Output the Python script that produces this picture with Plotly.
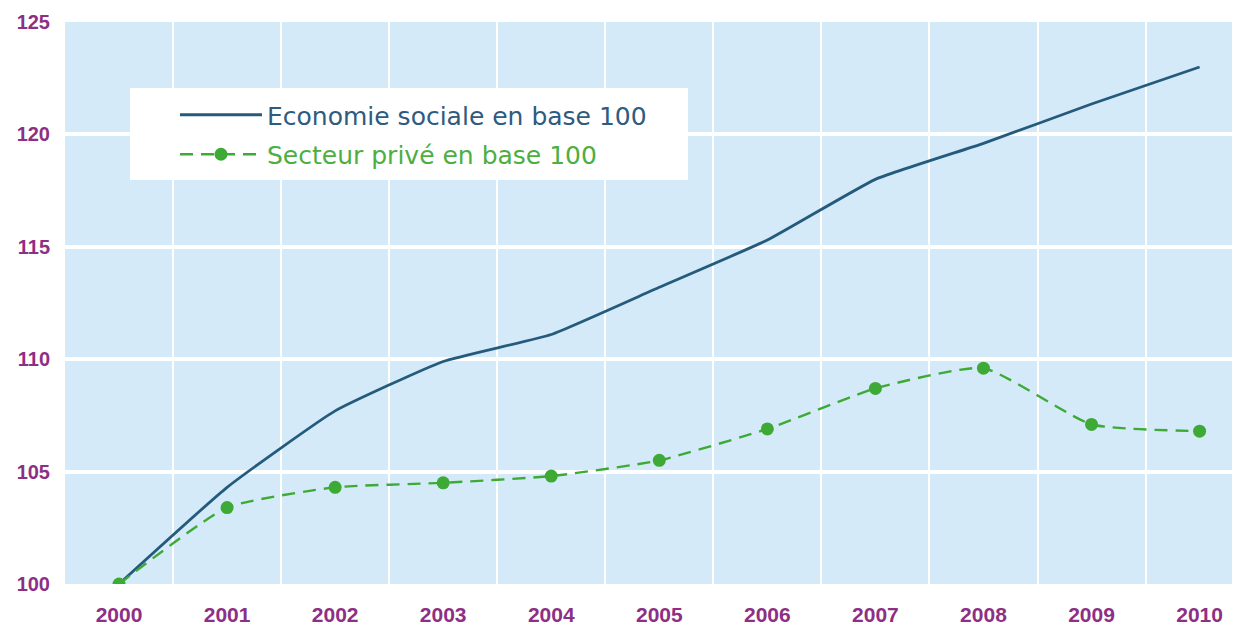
import plotly.graph_objects as go

years = [2000, 2001, 2002, 2003, 2004, 2005, 2006, 2007, 2008, 2009, 2010]
economie_sociale = [100.0, 104.3, 107.7, 109.9, 111.1, 113.2, 115.3, 118.0, 119.6, 121.35, 123.0]
secteur_prive = [100.0, 103.4, 104.3, 104.5, 104.8, 105.5, 106.9, 108.7, 109.6, 107.1, 106.8]
y_ticks = [100, 105, 110, 115, 120, 125]

name_es = "Economie sociale en base 100"
name_sp = "Secteur privé en base 100"

blue = "#245B7C"
green = "#3DAA35"
purple = "#8E2F86"

fig = go.Figure()
fig.add_trace(go.Scatter(
    x=years, y=economie_sociale, mode="lines",
    name=f"<span style='color:#2E5B7E'>{name_es}</span>",
    legendgroup="es",
    line=dict(color=blue, width=2.8, shape="spline", smoothing=0.4),
))
fig.add_trace(go.Scatter(
    x=years, y=secteur_prive, mode="lines+markers",
    name=f"<span style='color:#4CAF3F'>{name_sp}</span>",
    legendgroup="sp",
    line=dict(color=green, width=2.4, dash="13px,8px", shape="spline", smoothing=0.5),
    marker=dict(color=green, size=13),
))

# white panel behind the legend (legend box in the reference has wide left padding)
fig.add_shape(
    type="rect", xref="paper", yref="paper",
    x0=(130 - 65) / 1167, x1=(688 - 65) / 1167,
    y0=(584 - 180) / 562, y1=(584 - 88) / 562,
    fillcolor="white", line=dict(width=0), layer="above",
)

fig.update_layout(
    width=1234, height=629,
    margin=dict(l=65, r=2, t=22, b=45),
    paper_bgcolor="white",
    plot_bgcolor="#D4EAF8",
    showlegend=True,
    legend=dict(
        x=(175 - 65) / 1167, y=(584 - 92) / 562, xanchor="left", yanchor="top",
        bgcolor="rgba(255,255,255,0)", borderwidth=0,
        font=dict(family="DejaVu Sans", size=25, color=blue),
        tracegroupgap=4, itemwidth=82,
    ),
    xaxis=dict(
        range=[1999.5, 2010.3],
        tickvals=years, ticktext=[str(y) for y in years],
        showgrid=False, zeroline=False, showline=False,
        tickfont=dict(family="Liberation Sans", size=21, color=purple, weight="bold"),
        ticklabelstandoff=16,
        minor=dict(tick0=1999.5, dtick=1, showgrid=True, gridcolor="white", gridwidth=2.2),
    ),
    yaxis=dict(
        range=[100, 125],
        tickvals=y_ticks,
        showgrid=True, gridcolor="white", gridwidth=3.5,
        zeroline=False, showline=False,
        tickfont=dict(family="Liberation Sans", size=20, color=purple, weight="bold"),
        ticklabelstandoff=14,
    ),
)

fig.write_html("out.html", config={"displayModeBar": False},
               post_script="document.body.style.margin='0';")
